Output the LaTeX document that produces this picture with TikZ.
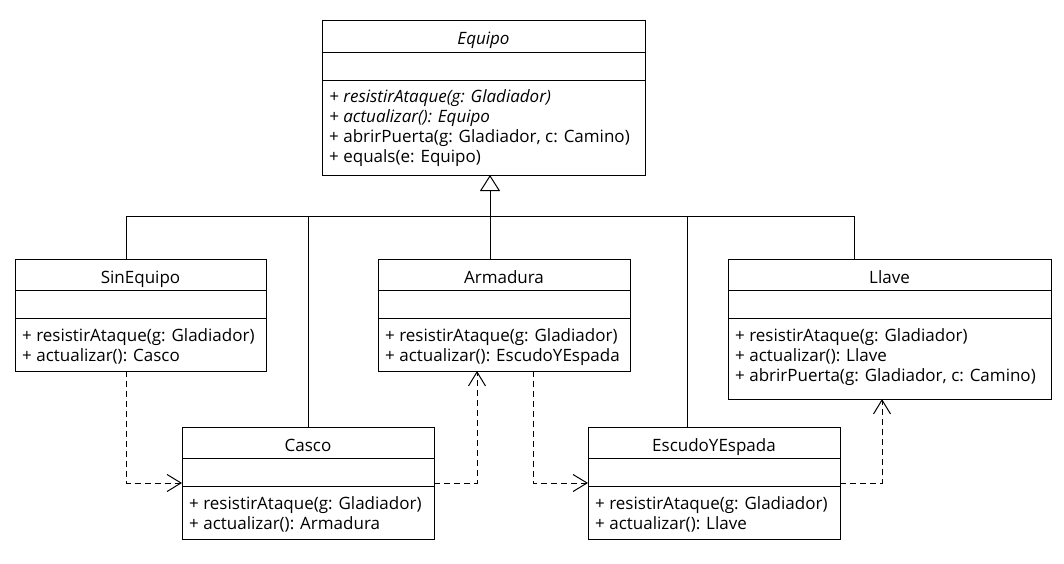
\documentclass[tikz,border=0pt]{standalone}
\usepackage{fontspec}
\setmainfont{Open Sans}
\usetikzlibrary{arrows.meta}

\tikzset{
  umlclass/.style={draw, line width=1pt, anchor=north west, outer sep=0pt, inner sep=0pt},
  umlname/.style={anchor=base, inner sep=0pt, font=\fontsize{17}{20}\selectfont},
  umlops/.style={anchor=base west, inner sep=0pt, align=left, font=\fontsize{17}{20}\selectfont},
  dep/.style={line width=1pt, dash pattern=on 6pt off 4pt, -{Straight Barb[length=14pt, width=17pt]}},
  gen/.style={line width=1pt, -{Triangle[open, length=16pt, width=20pt, fill=white]}},
}

\begin{document}
\begin{tikzpicture}[x=1pt, y=-1pt]
\useasboundingbox (0,0) rectangle (1064,564);

% clase abstracta
\node[umlclass, minimum width=323pt, minimum height=154pt] (equipo) at (322,21) {};
\draw ([yshift=-31pt]equipo.north west) -- ([yshift=-31pt]equipo.north east);
\draw ([yshift=-59pt]equipo.north west) -- ([yshift=-59pt]equipo.north east);
\node[umlname] (equipo-name) at ([yshift=-24pt]equipo.north) {\textit{Equipo}};
% base = ultima linea
\node[umlops] (equipo-ops) at ([xshift=7pt, yshift=-142pt]equipo.north west)
  {\textit{+ resistirAtaque(g: Gladiador)}\\ \textit{+ actualizar(): Equipo}\\ + abrirPuerta(g: Gladiador, c: Camino)\\ + equals(e: Equipo)};

% estados
\node[umlclass, minimum width=251pt, minimum height=112pt] (sinequipo) at (15,259) {};
\draw ([yshift=-31pt]sinequipo.north west) -- ([yshift=-31pt]sinequipo.north east);
\draw ([yshift=-59pt]sinequipo.north west) -- ([yshift=-59pt]sinequipo.north east);
\node[umlname] (sinequipo-name) at ([yshift=-24pt]sinequipo.north) {SinEquipo};
\node[umlops] (sinequipo-ops) at ([xshift=7pt, yshift=-102pt]sinequipo.north west)
  {+ resistirAtaque(g: Gladiador)\\ + actualizar(): Casco};

\node[umlclass, minimum width=252pt, minimum height=112pt] (armadura) at (378,259) {};
\draw ([yshift=-31pt]armadura.north west) -- ([yshift=-31pt]armadura.north east);
\draw ([yshift=-59pt]armadura.north west) -- ([yshift=-59pt]armadura.north east);
\node[umlname] (armadura-name) at ([yshift=-24pt]armadura.north) {Armadura};
\node[umlops] (armadura-ops) at ([xshift=7pt, yshift=-102pt]armadura.north west)
  {+ resistirAtaque(g: Gladiador)\\ + actualizar(): EscudoYEspada};

\node[umlclass, minimum width=323pt, minimum height=140pt] (llave) at (728,259) {};
\draw ([yshift=-31pt]llave.north west) -- ([yshift=-31pt]llave.north east);
\draw ([yshift=-59pt]llave.north west) -- ([yshift=-59pt]llave.north east);
\node[umlname] (llave-name) at ([yshift=-24pt]llave.north) {Llave};
\node[umlops] (llave-ops) at ([xshift=7pt, yshift=-122pt]llave.north west)
  {+ resistirAtaque(g: Gladiador)\\ + actualizar(): Llave\\ + abrirPuerta(g: Gladiador, c: Camino)};

\node[umlclass, minimum width=252pt, minimum height=112pt] (casco) at (182,427) {};
\draw ([yshift=-31pt]casco.north west) -- ([yshift=-31pt]casco.north east);
\draw ([yshift=-59pt]casco.north west) -- ([yshift=-59pt]casco.north east);
\node[umlname] (casco-name) at ([yshift=-24pt]casco.north) {Casco};
\node[umlops] (casco-ops) at ([xshift=7pt, yshift=-102pt]casco.north west)
  {+ resistirAtaque(g: Gladiador)\\ + actualizar(): Armadura};

\node[umlclass, minimum width=252pt, minimum height=112pt] (escudo) at (588,427) {};
\draw ([yshift=-31pt]escudo.north west) -- ([yshift=-31pt]escudo.north east);
\draw ([yshift=-59pt]escudo.north west) -- ([yshift=-59pt]escudo.north east);
\node[umlname] (escudo-name) at ([yshift=-24pt]escudo.north) {EscudoYEspada};
\node[umlops] (escudo-ops) at ([xshift=7pt, yshift=-102pt]escudo.north west)
  {+ resistirAtaque(g: Gladiador)\\ + actualizar(): Llave};

% herencia
\coordinate (bus) at (490,216.5);
\draw[gen] (armadura.north -| bus) -- (equipo.south -| bus);
\draw[line width=1pt] ([xshift=-14pt]sinequipo.north) |- (bus);
\draw[line width=1pt] (casco.north) |- (bus);
\draw[line width=1pt] ([xshift=-27pt]escudo.north) |- (bus);
\draw[line width=1pt] ([xshift=-35.5pt]llave.north) |- (bus);

% transiciones
\draw[dep] ([xshift=-14pt]sinequipo.south) |- (casco.west);
\draw[dep] (casco.east) -| ([xshift=-27pt]armadura.south);
\draw[dep] ([xshift=29pt]armadura.south) |- (escudo.west);
\draw[dep] (escudo.east) -| ([xshift=-7.5pt]llave.south);
\end{tikzpicture}
\end{document}
